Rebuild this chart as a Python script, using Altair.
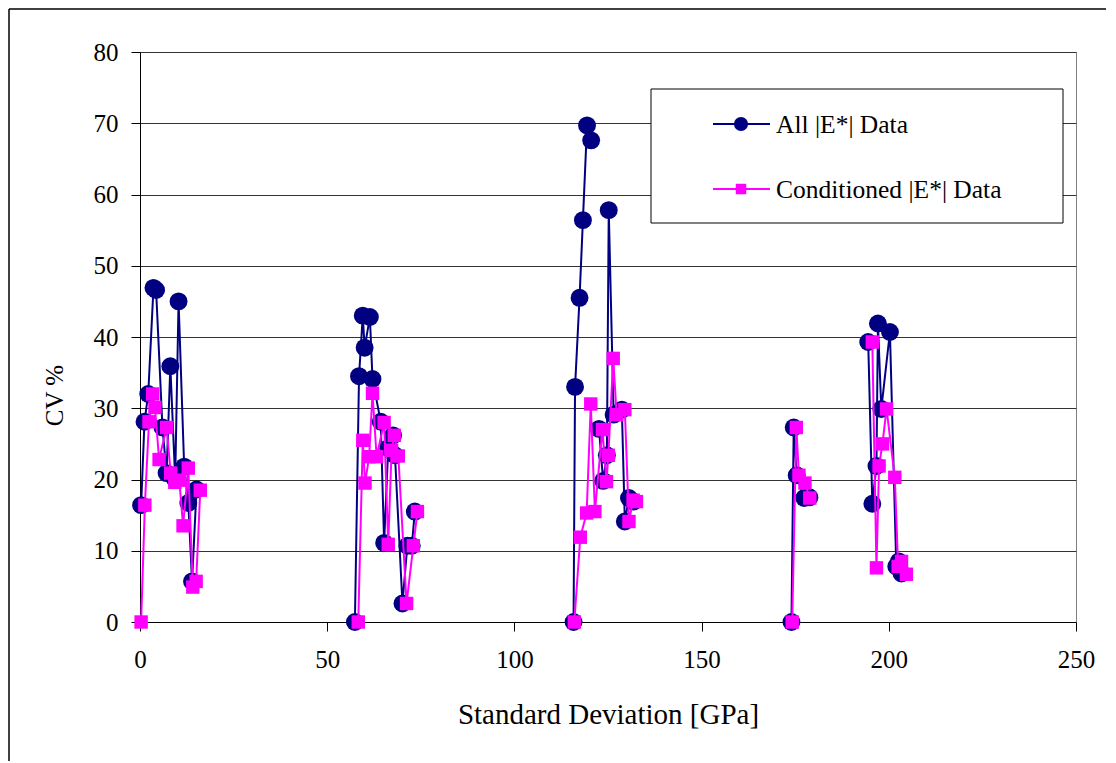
import altair as alt
import pandas as pd

SERIES = ["All |E*| Data", "Conditioned |E*| Data"]

# All |E*| Data (navy circles), one list per connected segment
ALL_X = [
    [0.3, 1.2, 2.2, 3.6, 4.3, 6.0, 7.1, 8.1, 9.4, 10.3, 11.8, 12.9, 13.9, 15.1],
    [57.4, 58.5, 59.5, 60.0, 61.4, 62.1, 64.3, 65.2, 66.3, 67.6, 68.1, 70.1, 71.4, 72.6, 73.4],
    [115.8, 116.2, 117.4, 118.3, 119.4, 120.5],
    [122.6, 123.7, 124.7, 125.2, 126.5, 128.7, 129.5, 130.6, 131.8],
    [174.0, 174.6, 175.4, 177.4, 178.8],
    [194.5, 195.6, 196.7, 197.1, 198.0, 200.3, 202.0, 202.7, 203.4],
]
ALL_Y = [
    [16.4, 28.1, 32.0, 46.9, 46.6, 27.3, 20.9, 35.9, 20.0, 45.0, 21.8, 16.7, 5.7, 18.6],
    [0.0, 34.5, 43.0, 38.5, 42.8, 34.1, 28.1, 11.1, 24.4, 26.2, 23.4, 2.6, 10.7, 10.7, 15.5],
    [0.0, 33.0, 45.5, 56.4, 69.7, 67.6],
    [27.1, 19.8, 23.4, 57.8, 29.1, 29.8, 14.1, 17.4, 16.9],
    [0.0, 27.3, 20.6, 17.4, 17.5],
    [39.3, 16.6, 21.9, 41.9, 29.9, 40.7, 7.8, 8.5, 6.8],
]

# Conditioned |E*| Data (magenta squares)
COND_X = [
    [0.3, 1.3, 2.4, 3.4, 4.0, 5.1, 7.1, 8.2, 9.3, 10.5, 11.5, 12.9, 14.1, 15.0, 16.1],
    [58.3, 59.5, 60.1, 61.2, 62.1, 63.2, 65.2, 66.3, 67.2, 67.9, 69.0, 71.2, 73.0, 74.1],
    [116.0, 117.6, 119.3, 120.4, 121.5, 123.5, 124.6, 125.1, 126.4, 127.3, 129.5, 130.6, 131.7, 132.6],
    [174.2, 175.3, 176.0, 177.6, 178.9],
    [195.6, 196.7, 197.4, 198.3, 199.4, 201.6, 202.5, 203.4, 204.7],
]
COND_Y = [
    [0.0, 16.4, 28.1, 32.0, 30.1, 22.8, 27.3, 20.9, 19.6, 19.9, 13.5, 21.6, 4.9, 5.7, 18.5],
    [0.0, 25.5, 19.5, 23.2, 32.1, 23.2, 28.0, 10.9, 24.1, 26.2, 23.3, 2.6, 10.7, 15.5],
    [0.0, 11.9, 15.3, 30.6, 15.5, 27.0, 19.7, 23.4, 37.0, 29.1, 29.8, 14.1, 17.1, 16.9],
    [0.0, 27.3, 20.6, 19.5, 17.4],
    [39.3, 7.6, 21.9, 25.0, 29.9, 20.3, 7.8, 8.5, 6.7],
]

X_TICKS = [0, 50, 100, 150, 200, 250]
Y_TICKS = [0, 10, 20, 30, 40, 50, 60, 70, 80]


def build(xs_list, ys_list, name, tag):
    rows = []
    for s, (xs, ys) in enumerate(zip(xs_list, ys_list)):
        for i, (x, y) in enumerate(zip(xs, ys)):
            rows.append({"series": name, "seg": f"{tag}{s}", "i": i, "x": x, "y": y})
    return pd.DataFrame(rows)


df_all = build(ALL_X, ALL_Y, SERIES[0], "a")
df_cond = build(COND_X, COND_Y, SERIES[1], "c")

NAVY = "#000080"
MAGENTA = "#FF00FF"
FONT = "Liberation Serif"

xenc = alt.X("x:Q", scale=alt.Scale(domain=[0, 250], nice=False),
             axis=alt.Axis(values=X_TICKS, title="Standard Deviation [GPa]", grid=False,
                           labelFlush=False, labelPadding=16, titlePadding=28,
                           titleFontSize=29))
yenc = alt.Y("y:Q", scale=alt.Scale(domain=[0, 80], nice=False),
             axis=alt.Axis(values=Y_TICKS, title="CV %", grid=True, labelFlush=False,
                           labelPadding=13, titlePadding=26, titleFontSize=25, titleY=343))

line_all = alt.Chart(df_all).mark_line(color=NAVY, strokeWidth=2).encode(
    x=xenc, y=yenc, detail="seg:N", order="i:Q")
pts_all = alt.Chart(df_all).mark_circle(color=NAVY, size=320, opacity=1).encode(x=xenc, y=yenc)
line_cond = alt.Chart(df_cond).mark_line(color=MAGENTA, strokeWidth=2).encode(
    x=xenc, y=yenc, detail="seg:N", order="i:Q")
pts_cond = alt.Chart(df_cond).mark_square(color=MAGENTA, size=180, opacity=1).encode(x=xenc, y=yenc)

one = pd.DataFrame({"k": [0]})

# legend (manual, drawn in pixel space)
leg_box = alt.Chart(one).mark_rect(fill="white", stroke="black", strokeWidth=1).encode(
    x=alt.value(511), x2=alt.value(923), y=alt.value(37), y2=alt.value(171))
leg_line1 = alt.Chart(one).mark_rule(color=NAVY, strokeWidth=2).encode(
    x=alt.value(573), x2=alt.value(630), y=alt.value(72))
leg_pt1 = alt.Chart(one).mark_circle(color=NAVY, size=200, opacity=1).encode(
    x=alt.value(601), y=alt.value(72))
leg_txt1 = alt.Chart(one).mark_text(align="left", baseline="middle", font=FONT, fontSize=25.5,
                                    color="black").encode(
    x=alt.value(636), y=alt.value(73), text=alt.value(SERIES[0]))
leg_line2 = alt.Chart(one).mark_rule(color=MAGENTA, strokeWidth=2).encode(
    x=alt.value(573), x2=alt.value(630), y=alt.value(137))
leg_pt2 = alt.Chart(one).mark_square(color=MAGENTA, size=110, opacity=1).encode(
    x=alt.value(601), y=alt.value(137))
leg_txt2 = alt.Chart(one).mark_text(align="left", baseline="middle", font=FONT, fontSize=25.5,
                                    color="black").encode(
    x=alt.value(636), y=alt.value(138), text=alt.value(SERIES[1]))

# outer figure frame (left and top edges)
frame_left = alt.Chart(one).mark_rule(color="black", strokeWidth=1.5).encode(
    x=alt.value(-131), y=alt.value(-43), y2=alt.value(720))
frame_top = alt.Chart(one).mark_rule(color="black", strokeWidth=1.5).encode(
    x=alt.value(-131), x2=alt.value(1000), y=alt.value(-43))

chart = alt.layer(
    line_all, pts_all, line_cond, pts_cond,
    leg_box, leg_line1, leg_pt1, leg_txt1, leg_line2, leg_pt2, leg_txt2,
    frame_left, frame_top,
).properties(
    width=936, height=570,
    autosize=alt.AutoSizeParams(type="none"),
    padding={"left": 132, "top": 44, "right": 30, "bottom": 139},
).configure_view(
    stroke="#808080", strokeWidth=1
).configure_axis(
    labelFont=FONT, titleFont=FONT, labelFontSize=25, titleFontSize=26,
    labelColor="black", titleColor="black", titleFontWeight="normal",
    domainColor="black", domainWidth=1, tickColor="black", tickSize=9,
    gridColor="#333333", gridWidth=1,
)

chart.save("out.html", embed_options={"renderer": "svg", "actions": False})
